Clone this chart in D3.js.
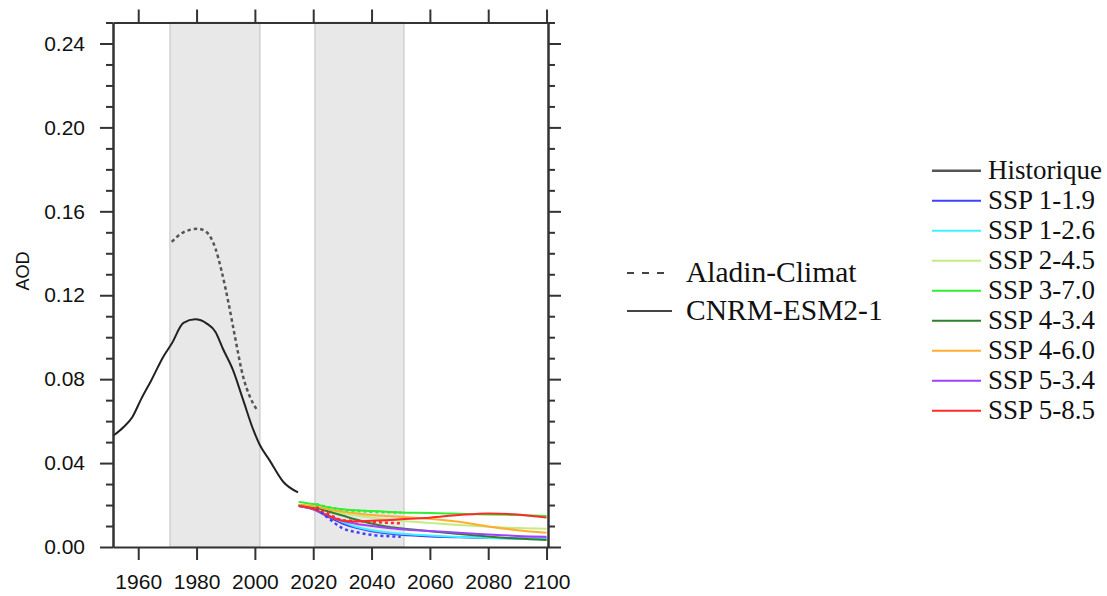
<!DOCTYPE html>
<html>
<head>
<meta charset="utf-8">
<script src="https://cdn.jsdelivr.net/npm/d3@7"></script>
<style>
body { margin:0; background:#fff; }
svg text { fill:#111; }
.tick text { font-family: "Liberation Sans", Arial, sans-serif; }
.leg { font-family: "Liberation Serif", "Times New Roman", serif; }
</style>
</head>
<body>
<svg id="aodgraph"></svg>
<script>
// --- data ---
var histYears  = [1951.4,1955,1958,1961,1964.5,1968.5,1971.5,1975.5,1979.5,1983.5,1986.5,1989,1992.5,1996,1999.5,2001.7,2005,2009.7,2014.8];
var histValues = [0.053,0.0572,0.062,0.0705,0.0795,0.0905,0.097,0.1068,0.1085,0.1065,0.1025,0.0946,0.0843,0.070,0.0557,0.0486,0.0414,0.0311,0.026];

var aladinYears  = [1971.5,1975.5,1980.5,1983.5,1986.5,1988.5,1991,1993.2,1996,1998.3,2000.6];
var aladinValues = [0.1454,0.150,0.1517,0.150,0.1422,0.132,0.116,0.100,0.081,0.0716,0.0656];

var scenYears = [2015,2020,2025,2030,2035,2040,2045,2050,2060,2070,2080,2090,2100];
var ssp119 = [0.0195,0.0180,0.0145,0.0112,0.0090,0.0075,0.0065,0.0058,0.0050,0.0046,0.0043,0.0041,0.0040];
var ssp126 = [0.0195,0.0180,0.0150,0.0120,0.0095,0.0080,0.0070,0.0063,0.0055,0.0048,0.0043,0.0039,0.0037];
var ssp245 = [0.0200,0.0190,0.0175,0.0160,0.0150,0.0140,0.0132,0.0125,0.0115,0.0105,0.0097,0.0090,0.0087];
var ssp370 = [0.0215,0.0205,0.0190,0.0180,0.0175,0.0172,0.0168,0.0165,0.0162,0.0158,0.0155,0.0152,0.0148];
var ssp434 = [0.0200,0.0190,0.0170,0.0150,0.0130,0.0112,0.0098,0.0089,0.0075,0.0062,0.0050,0.0040,0.0033];
var ssp460 = [0.0200,0.0195,0.0180,0.0168,0.0160,0.0153,0.0148,0.0144,0.0135,0.0120,0.0098,0.0080,0.0068];
var ssp534 = [0.0195,0.0180,0.0150,0.0125,0.0110,0.0100,0.0092,0.0085,0.0076,0.0068,0.0060,0.0053,0.0049];
var ssp585 = [0.0195,0.0182,0.0150,0.0125,0.0122,0.0125,0.0128,0.0132,0.0140,0.0152,0.0160,0.0155,0.0140];

var aladinScenYears = [2021,2025,2030,2035,2040,2045,2050];
var aladin119 = [0.0186,0.0140,0.0090,0.0070,0.0058,0.0052,0.0049];
var aladin370 = [0.0205,0.0190,0.0178,0.0172,0.0168,0.0166,0.0164];
var aladin585 = [0.0190,0.0160,0.0128,0.0124,0.0120,0.0116,0.0113];

var periods = [[1970.9,2001.7],[2020.6,2051.1]];
var xTicks = [1960,1980,2000,2020,2040,2060,2080,2100];
var yTicks = [0,0.04,0.08,0.12,0.16,0.20,0.24];
var yMinor = [0.01,0.02,0.03,0.05,0.06,0.07,0.09,0.10,0.11,0.13,0.14,0.15,0.17,0.18,0.19,0.21,0.22,0.23,0.25];

var scenNames  = ["Historique","SSP 1-1.9","SSP 1-2.6","SSP 2-4.5","SSP 3-7.0","SSP 4-3.4","SSP 4-6.0","SSP 5-3.4","SSP 5-8.5"];
var scenColors = ["#555555","#4040ff","#40f0ff","#c4ec80","#30ee30","#2f7f2f","#ffae30","#a040ff","#ff2a2a"];
var scenSeries = [null,ssp119,ssp126,ssp245,ssp370,ssp434,ssp460,ssp534,ssp585];

var screen = {width:1107, height:596};
var margins = {top:22.5, left:113, right:559, bottom:49};

var target = d3.select("#aodgraph")
    .attr("width", screen.width)
    .attr("height", screen.height);

var xScale = d3.scaleLinear()
    .domain([1951.35, 2100.5])
    .range([margins.left, 548]);
var yScale = d3.scaleLinear()
    .domain([0, 0.25])
    .range([547, margins.top]);

var zip = function(xs, ys){ return xs.map(function(x,i){ return [x, ys[i]]; }); };

var line = d3.line()
    .x(function(d){ return xScale(d[0]); })
    .y(function(d){ return yScale(d[1]); })
    .curve(d3.curveMonotoneX);

// shaded periods
target.append("g").selectAll("rect")
    .data(periods)
    .enter()
    .append("rect")
    .attr("x", function(p){ return xScale(p[0]); })
    .attr("y", yScale(0.25))
    .attr("width", function(p){ return xScale(p[1]) - xScale(p[0]); })
    .attr("height", yScale(0) - yScale(0.25))
    .attr("fill", "#e8e8e8")
    .attr("stroke", "#d0d0d0")
    .attr("stroke-width", 1.5);

var plot = target.append("g").attr("fill", "none");

// scenario lines
scenSeries.forEach(function(s, i){
    if (!s) return;
    plot.append("path")
        .datum(zip(scenYears, s))
        .attr("d", line)
        .attr("stroke", scenColors[i])
        .attr("stroke-width", 2);
});

// aladin scenario runs (dotted)
[[aladin119, scenColors[1]],[aladin370, scenColors[4]],[aladin585, scenColors[8]]].forEach(function(a){
    plot.append("path")
        .datum(zip(aladinScenYears, a[0]))
        .attr("d", line)
        .attr("stroke", a[1])
        .attr("stroke-width", 2.5)
        .attr("stroke-dasharray", "3,3");
});

// historical
plot.append("path")
    .datum(zip(histYears, histValues))
    .attr("d", line)
    .attr("stroke", "#222")
    .attr("stroke-width", 2);

plot.append("path")
    .datum(zip(aladinYears, aladinValues))
    .attr("d", line)
    .attr("stroke", "#555")
    .attr("stroke-width", 2.5)
    .attr("stroke-dasharray", "3.5,3");

// axes
var axisColor = "#333";
var styleAxis = function(g){
    g.select(".domain").attr("stroke", axisColor).attr("stroke-width", 2);
    g.selectAll(".tick line").attr("stroke", axisColor).attr("stroke-width", 2);
};

var axes = target.append("g");
axes.append("g")
    .attr("transform", "translate(0," + yScale(0) + ")")
    .call(d3.axisBottom(xScale).tickValues(xTicks).tickSize(13).tickSizeOuter(0).tickPadding(14).tickFormat(d3.format("d")))
    .call(styleAxis)
    .selectAll("text").attr("font-size", 21).attr("fill", "#111");
axes.append("g")
    .attr("transform", "translate(0," + yScale(0.25) + ")")
    .call(d3.axisTop(xScale).tickValues(xTicks).tickSize(13).tickSizeOuter(0).tickFormat(""))
    .call(styleAxis);
axes.append("g")
    .attr("transform", "translate(" + margins.left + ",0)")
    .call(d3.axisLeft(yScale).tickValues(yMinor).tickSize(7).tickSizeOuter(0).tickFormat(""))
    .call(styleAxis);
axes.append("g")
    .attr("transform", "translate(" + margins.left + ",0)")
    .call(d3.axisLeft(yScale).tickValues(yTicks).tickSize(13).tickSizeOuter(0).tickPadding(15).tickFormat(d3.format(".2f")))
    .call(styleAxis)
    .selectAll("text").attr("font-size", 21).attr("fill", "#111");
axes.append("g")
    .attr("transform", "translate(548,0)")
    .call(d3.axisRight(yScale).tickValues(yMinor).tickSize(7).tickSizeOuter(0).tickFormat(""))
    .call(styleAxis);
axes.append("g")
    .attr("transform", "translate(548,0)")
    .call(d3.axisRight(yScale).tickValues(yTicks).tickSize(13).tickSizeOuter(0).tickFormat(""))
    .call(styleAxis);

// y label
target.append("g")
    .attr("transform", "translate(29,271)")
    .append("text")
    .text("AOD")
    .attr("transform", "rotate(270)")
    .attr("text-anchor", "middle")
    .attr("font-family", "Liberation Sans, Arial, sans-serif")
    .attr("font-size", 18);

// model legend
var modelLeg = target.append("g").classed("leg", true);
var models = [["Aladin-Climat", "7,8"], ["CNRM-ESM2-1", null]];
models.forEach(function(m, i){
    var y = 273 + i * 38;
    modelLeg.append("line")
        .attr("x1", 627).attr("x2", 672)
        .attr("y1", y).attr("y2", y)
        .attr("stroke", "#444")
        .attr("stroke-width", 2)
        .attr("stroke-dasharray", m[1]);
    modelLeg.append("text")
        .text(m[0])
        .attr("x", 686)
        .attr("y", y + 8.5)
        .attr("font-size", 29.5);
});

// scenario legend
var scenLeg = target.append("g").classed("leg", true);
scenNames.forEach(function(n, i){
    var y = 170.7 + i * 30;
    scenLeg.append("line")
        .attr("x1", 932).attr("x2", 981)
        .attr("y1", y).attr("y2", y)
        .attr("stroke", scenColors[i])
        .attr("stroke-width", i == 0 ? 2.5 : 2);
    scenLeg.append("text")
        .text(n)
        .attr("x", 988)
        .attr("y", y + 8)
        .attr("font-size", 27);
});
</script>
</body>
</html>
